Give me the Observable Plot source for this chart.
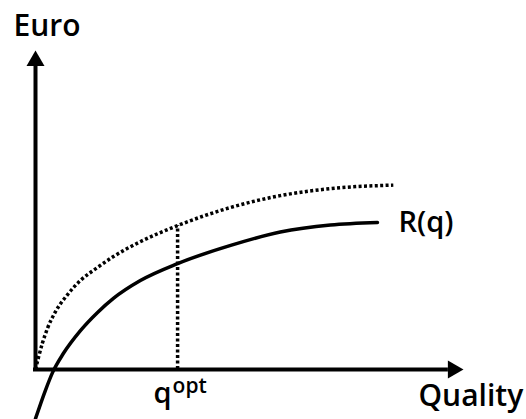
<!DOCTYPE html>
<html>
<head>
<meta charset="utf-8">
<script src="https://cdn.jsdelivr.net/npm/d3@7"></script>
<script src="https://cdn.jsdelivr.net/npm/@observablehq/plot@0.6"></script>
<style>
  html, body { margin: 0; padding: 0; background: white; }
</style>
</head>
<body>
<div id="chart"></div>
<script>
// Solid revenue curve R(q)
const qSolid = [0, 2.3, 4.0, 6.5, 10.5, 14.5, 18.2, 24.5, 33.2, 45.6, 57.2, 68.9, 79.9];
const rSolid = [-15.4, -6.6, -0.9, 5.0, 12.2, 17.9, 22.3, 27.9, 33.2, 38.9, 43.1, 45.3, 46.1];
// Dotted upper curve
const qDotted = [0, 0.7, 1.6, 2.8, 4.7, 7.5, 10.5, 14.5, 18.2, 24.1, 33.2, 45.6, 57.2, 68.9, 83.6];
const rDotted = [0, 3.8, 8.2, 12.9, 18.2, 23.5, 27.9, 32.0, 35.4, 39.8, 45.1, 50.8, 54.5, 56.7, 57.8];
// Optimal quality and the dotted curve value there
const qOpt = 33.2;
const rOptDotted = 45.1;
// Axis extents
const xMax = 100;
const yMax = 100;
const xAxisEnd = 96;
const yAxisEnd = 95;
// Labels
const yLabel = "Euro";
const xLabel = "Quality";
const curveLabel = "R(q)";
const optMain = "q";
const optSup = "opt";

const solid = qSolid.map((q, i) => ({q, r: rSolid[i]}));
const dotted = qDotted.map((q, i) => ({q, r: rDotted[i]}));
const font = "'Open Sans', sans-serif";

const chart = Plot.plot({
  width: 526,
  height: 419,
  marginLeft: 35,
  marginRight: 63,
  marginTop: 50,
  marginBottom: 50,
  x: {domain: [0, xMax], axis: null},
  y: {domain: [0, yMax], axis: null},
  style: {background: "white"},
  marks: [
    // axes
    Plot.ruleY([0], {x1: 0, x2: xAxisEnd, stroke: "black", strokeWidth: 4, strokeLinecap: "square"}),
    Plot.ruleX([0], {y1: 0, y2: yAxisEnd, stroke: "black", strokeWidth: 4, strokeLinecap: "square"}),
    Plot.dot([{x: 0, y: yMax}], {x: "x", y: "y", symbol: "triangle", r: 6.68, fill: "black", stroke: "none", dy: 10.4}),
    Plot.dot([{x: xMax, y: 0}], {x: "x", y: "y", symbol: "triangle", r: 6.68, fill: "black", stroke: "none", rotate: 90, dx: -10.4}),
    // vertical dotted line at q opt
    Plot.ruleX([qOpt], {y1: 0, y2: rOptDotted, stroke: "black", strokeWidth: 3.5, strokeDasharray: "3 2.5", strokeLinecap: "butt"}),
    // dotted curve
    Plot.line(dotted, {x: "q", y: "r", curve: "monotone-x", stroke: "black", strokeWidth: 3.5, strokeDasharray: "3 2.4", strokeLinecap: "butt", strokeLinejoin: "miter"}),
    // solid curve
    Plot.line(solid, {x: "q", y: "r", curve: "monotone-x", stroke: "black", strokeWidth: 3.5}),
    // labels
    Plot.text([yLabel], {x: 0, y: yMax, text: d => d, textAnchor: "start", lineAnchor: "bottom", dx: -22, dy: -15, fontSize: 30, fontWeight: 600, fontFamily: font, fill: "black"}),
    Plot.text([xLabel], {x: xMax, y: 0, text: d => d, textAnchor: "start", lineAnchor: "bottom", dx: -45, dy: 36, fontSize: 30, fontWeight: 600, fontFamily: font, fill: "black"}),
    Plot.text([curveLabel], {x: qSolid[qSolid.length - 1], y: rSolid[rSolid.length - 1], text: d => d, textAnchor: "start", lineAnchor: "bottom", dx: 21, dy: 10, fontSize: 29, fontWeight: 600, fontFamily: font, fill: "black"}),
    Plot.text([optMain], {x: qOpt, y: 0, text: d => d, textAnchor: "end", lineAnchor: "bottom", dx: -6, dy: 33, fontSize: 29, fontWeight: 600, fontFamily: font, fill: "black"}),
    Plot.text([optSup], {x: qOpt, y: 0, text: d => d, textAnchor: "start", lineAnchor: "bottom", dx: -5, dy: 23, fontSize: 21, fontWeight: 600, fontFamily: font, fill: "black"})
  ]
});
document.getElementById("chart").appendChild(chart);
</script>
</body>
</html>
